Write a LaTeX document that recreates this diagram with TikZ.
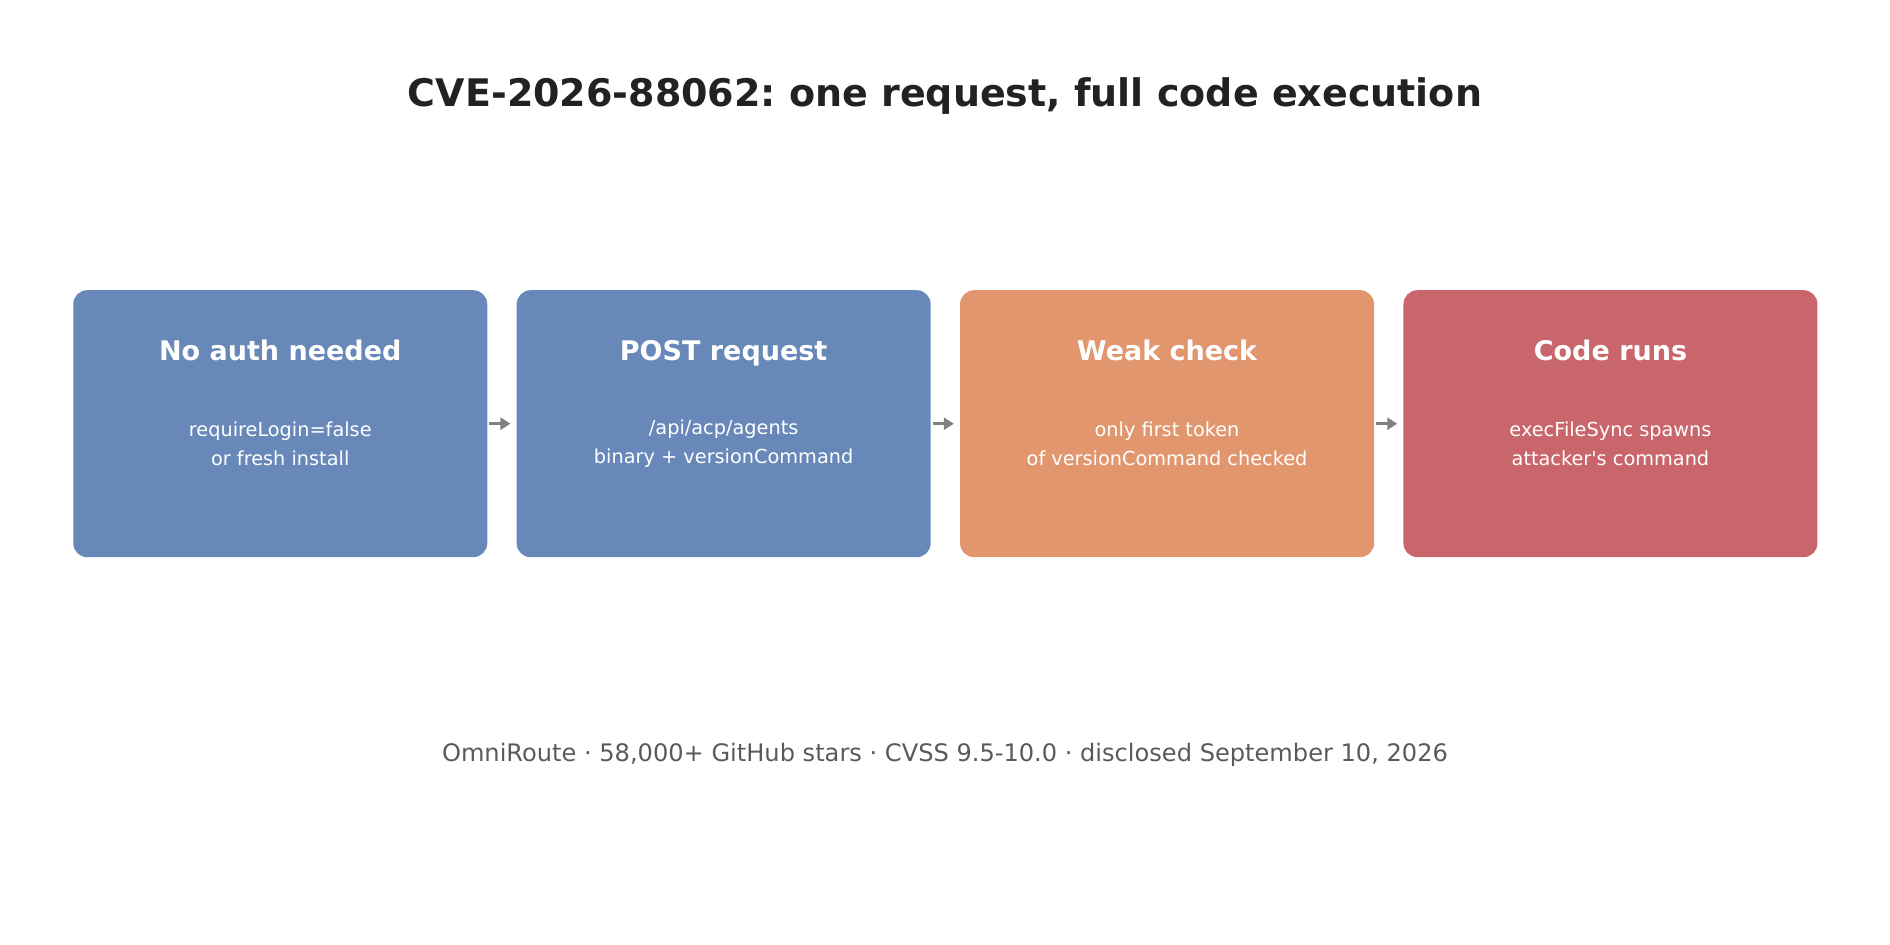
\documentclass[tikz,border=0pt]{standalone}
\usepackage{fontspec}
\setmainfont{DejaVu Sans}
\usetikzlibrary{arrows.meta,positioning}
\frenchspacing
\definecolor{StepBlue}{HTML}{6788B9}
\definecolor{StepOrange}{HTML}{E1966E}
\definecolor{StepRed}{HTML}{C9666B}
\definecolor{TitleGray}{HTML}{222222}
\definecolor{NoteGray}{HTML}{5A5A5A}
\definecolor{ArrowGray}{HTML}{808080}
\tikzset{
  BoxStyle/.style = {rectangle, rounded corners=14pt, inner sep=0pt,
                     minimum width=414pt, minimum height=267pt},
  HeadStyle/.style = {text=white, anchor=base, font=\fontsize{27}{32}\selectfont\bfseries},
  NoteStyle/.style = {text=white, align=center,
                      font=\fontsize{19.3}{29}\selectfont},
  EdgeStyle/.style = {ArrowGray, line width=3.5pt, shorten <=2pt, shorten >=6pt,
                      -{Triangle[length=10pt,width=12pt]}} }
\begin{document}
\begin{tikzpicture}[x=1pt,y=1pt]
  \useasboundingbox (0,0) rectangle (1890,-945);
  \node[text=TitleGray, font=\fontsize{38}{44}\selectfont\bfseries] (title) at (945,-96)
    {CVE-2026-88062: one request, full code execution};
  \node[BoxStyle, fill=StepBlue] (auth) at (280.25,-423.7) {};
  \node[BoxStyle, fill=StepBlue, right=29pt of auth] (post) {};
  \node[BoxStyle, fill=StepOrange, right=29pt of post] (check) {};
  \node[BoxStyle, fill=StepRed, right=29pt of check] (run) {};
  \foreach \b/\h/\n in {auth/No auth needed/{requireLogin=false\\or fresh install},
      post/POST request/{/api/acp/agents\\binary + versionCommand},
      check/Weak check/{only first token\\of versionCommand checked},
      run/Code runs/{execFileSync spawns\\attacker\textquotesingle s command}}{
    \node[HeadStyle] (\b-head) at ([yshift=-70.5pt]\b.north) {\h};
    \node[NoteStyle] (\b-note) at ([yshift=-20pt]\b.center) {\n};
  }
  \draw[EdgeStyle] (auth) -- (post);
  \draw[EdgeStyle] (post) -- (check);
  \draw[EdgeStyle] (check) -- (run);
  \node[text=NoteGray, font=\fontsize{24.1}{28}\selectfont] (footer) at (945,-755)
    {OmniRoute · 58,000+ GitHub stars · CVSS 9.5-10.0 · disclosed September 10, 2026};
\end{tikzpicture}
\end{document}
